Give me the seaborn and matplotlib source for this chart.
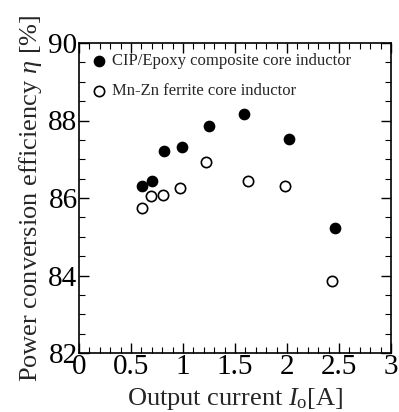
import matplotlib
matplotlib.use("Agg")
import matplotlib.pyplot as plt
import seaborn as sns
import pandas as pd
from matplotlib.ticker import MultipleLocator

cip_x = [0.606, 0.699, 0.814, 0.987, 1.247, 1.59, 2.019, 2.458]
cip_y = [86.31, 86.43, 87.22, 87.32, 87.85, 88.17, 87.51, 85.23]
mnzn_x = [0.606, 0.696, 0.811, 0.974, 1.224, 1.628, 1.981, 2.43]
mnzn_y = [85.73, 86.05, 86.09, 86.26, 86.92, 86.43, 86.31, 83.86]
labels = ["CIP/Epoxy composite core inductor", "Mn-Zn ferrite core inductor"]

sns.set_style("ticks")
plt.rcParams['font.family'] = ['Liberation Serif', 'DejaVu Serif']
plt.rcParams['mathtext.fontset'] = 'custom'
plt.rcParams['mathtext.rm'] = 'Liberation Serif'
plt.rcParams['mathtext.it'] = 'Liberation Serif:italic'

fig = plt.figure(figsize=(3.99, 4.12), dpi=100)
ax = fig.add_axes([79/399, 1-353/412, 312/399, 310/412])

df1 = pd.DataFrame({"x": cip_x, "y": cip_y})
df2 = pd.DataFrame({"x": mnzn_x, "y": mnzn_y})
sns.scatterplot(data=df1, x="x", y="y", ax=ax, s=55, color="black",
                edgecolor="black", linewidth=1, label=labels[0], zorder=3)
sns.scatterplot(data=df2, x="x", y="y", ax=ax, s=55, facecolor="white",
                edgecolor="black", linewidth=1.2, label=labels[1], zorder=3)

ax.set_xlim(0, 3)
ax.set_ylim(82, 90)
ax.xaxis.set_major_locator(MultipleLocator(0.5))
ax.xaxis.set_minor_locator(MultipleLocator(0.1))
ax.yaxis.set_major_locator(MultipleLocator(2))
ax.yaxis.set_minor_locator(MultipleLocator(0.5))
ax.set_xticks([0, 0.5, 1, 1.5, 2, 2.5, 3])
ax.set_xticklabels(["0", "0.5", "1", "1.5", "2", "2.5", "3"])
ax.tick_params(which='both', direction='in', top=True, right=True, colors='black')
ax.tick_params(which='major', length=7, width=1, labelsize=21, pad=1)
ax.tick_params(which='minor', length=4, width=0.8)
for sp in ax.spines.values():
    sp.set_linewidth(1.2)
    sp.set_color('black')

ax.set_xlabel(r"Output current $I_\mathrm{o}$[A]", fontsize=19, labelpad=4)
ax.set_ylabel(r"Power conversion efficiency $\eta$ [%]", fontsize=19, labelpad=3)

leg = ax.legend(loc='upper left', frameon=False, fontsize=12, handletextpad=0.2,
                borderaxespad=0.3, labelspacing=0.85, handlelength=1.2,
                borderpad=0.3)

fig.savefig("out.png", dpi=100)
